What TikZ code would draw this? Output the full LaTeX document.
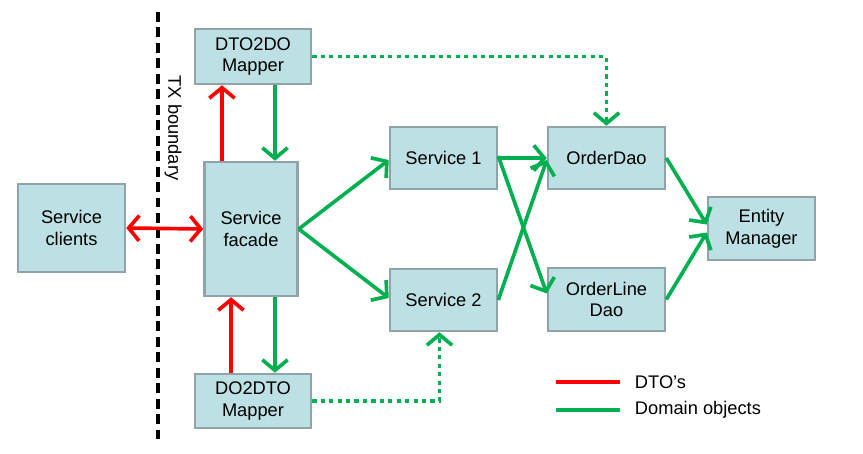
\documentclass[tikz,border=0pt]{standalone}
\usepackage{fontspec}
\setmainfont{Liberation Sans}
\usetikzlibrary{arrows.meta}
\definecolor{boxfill}{HTML}{BCE0E4}
\definecolor{boxline}{HTML}{8FA4A8}
\definecolor{dogreen}{HTML}{00B050}
\definecolor{dtored}{HTML}{FF0000}
\tikzset{
  box_n/.style = {draw=boxline, fill=boxfill, line width=1.8pt,
    align=center, inner sep=2pt,
    font=\fontsize{13}{15.5}\selectfont},
  dto_l/.style = {dtored, line width=2.6pt},
  dom_l/.style = {dogreen, line width=2.6pt},
  dot_l/.style = {dom_l, dash pattern=on 3pt off 3pt},
}

\begin{document}
\begin{tikzpicture}[x=0.025cm, y=-0.025cm,
    >={Straight Barb[length=7.5pt,width=18pt]}]
  \useasboundingbox (0,0) rectangle (863,454);

  % boxes
  \node [box_n, minimum width=2.675cm, minimum height=2.2cm] (clients) at (71.5,228) {Service\\clients};
  \node [box_n, minimum width=2.325cm, minimum height=3.35cm] (facade) at (251,229) {Service\\facade};
  \node [box_n, minimum width=2.9cm, minimum height=1.375cm] (dto2do) at (253,56.5) {DTO2DO\\Mapper};
  \node [box_n, minimum width=2.9cm, minimum height=1.35cm] (do2dto) at (253,401) {DO2DTO\\Mapper};
  \node [box_n, minimum width=2.675cm, minimum height=1.55cm] (service1) at (443.5,158) {Service 1};
  \node [box_n, minimum width=2.675cm, minimum height=1.55cm] (service2) at (443.5,300) {Service 2};
  \node [box_n, minimum width=2.925cm, minimum height=1.55cm] (orderdao) at (606.5,158) {OrderDao};
  \node [box_n, minimum width=2.925cm, minimum height=1.575cm] (orderline) at (606.5,299.5) {OrderLine\\Dao};
  \node [box_n, minimum width=2.675cm, minimum height=1.575cm] (entity) at (761.5,228.5) {Entity\\Manager};

  % TX boundary
  \coordinate (txtop) at (158,12);
  \coordinate (txbot) at (158,444);
  \draw [line width=2.2pt, dash pattern=on 7pt off 4pt] (txtop) -- (txbot);
  \node [rotate=-90, font=\fontsize{13}{15.5}\selectfont] (txlabel) at (173,128) {TX boundary};

  % DTO's
  \draw [dto_l, <->] (clients.east) -- (facade.west);
  \draw [dto_l, ->] ([xshift=-0.775cm]dto2do.south |- facade.north) -- ([xshift=-0.775cm]dto2do.south);
  \draw [dto_l, ->] ([xshift=-0.55cm]do2dto.north) -- ([xshift=-0.55cm]do2dto.north |- facade.south);

  % domain objects
  \draw [dom_l, ->] ([xshift=0.55cm]dto2do.south) -- ([xshift=0.55cm]dto2do.south |- facade.north);
  \draw [dom_l, ->] ([xshift=0.55cm]do2dto.north |- facade.south) -- ([xshift=0.55cm]do2dto.north);
  \draw [dom_l, ->] (facade.east) -- ([yshift=-0.05cm]service1.west);
  \draw [dom_l, ->] (facade.east) -- ([yshift=0.05cm]service2.west);
  \draw [dom_l, ->] (service1.east) -- (orderdao.west);
  \draw [dom_l, ->] ([yshift=0.05cm]service1.east) -- ([yshift=0.15cm]orderline.west);
  \draw [dom_l, ->] (service2.east) -- ([yshift=-0.05cm]orderdao.west);
  \draw [dom_l, ->] (orderdao.east) -- ([yshift=0.1cm]entity.west);
  \draw [dom_l, ->] (orderline.east) -- ([yshift=-0.1cm]entity.west);
  \draw [dot_l, ->] (dto2do.east) -| (orderdao.north);
  \draw [dot_l, ->] (do2dto.east) -| ([xshift=-0.1cm]service2.south);

  % legend
  \coordinate (leg1a) at (556,382);
  \coordinate (leg1b) at (620,382);
  \coordinate (leg2a) at (556,410);
  \coordinate (leg2b) at (620,410);
  \draw [dto_l] (leg1a) -- (leg1b);
  \draw [dom_l] (leg2a) -- (leg2b);
  \node [anchor=west, font=\fontsize{13}{15.5}\selectfont] (legdto) at (630,382) {DTO's};
  \node [anchor=west, font=\fontsize{13}{15.5}\selectfont] (legdom) at (630,410) {Domain objects};
\end{tikzpicture}
\end{document}
